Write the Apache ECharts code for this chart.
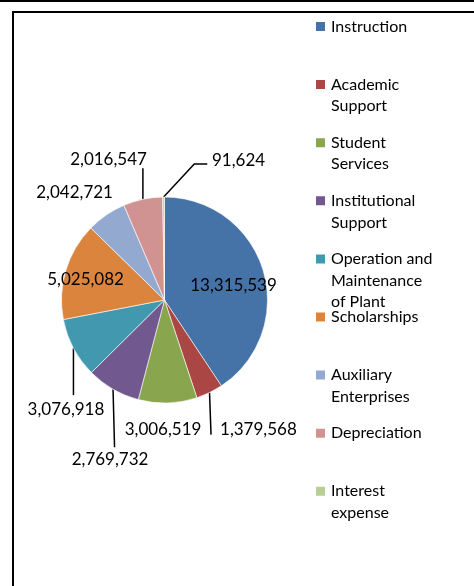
<!DOCTYPE html>
<html>
<head>
<meta charset="utf-8">
<title>Expenses by function</title>
<style>
    html, body { margin: 0; padding: 0; background: #fff; }
    #chart { width: 474px; height: 586px; }
</style>
<script src="https://cdn.jsdelivr.net/npm/echarts@6/dist/echarts.min.js"></script>
</head>
<body>
<div id="chart"></div>
<script>
// slices, clockwise from 12 o'clock
var categories = ['Instruction', 'Academic Support', 'Student Services', 'Institutional Support',
    'Operation and Maintenance of Plant', 'Scholarships', 'Auxiliary Enterprises', 'Depreciation', 'Interest expense'];
var amounts = [13315539, 1379568, 3006519, 2769732, 3076918, 5025082, 2042721, 2016547, 91624];
// legend text, wrapped the way the original wraps it
var legendText = ['Instruction', 'Academic\nSupport', 'Student\nServices', 'Institutional\nSupport',
    'Operation and\nMaintenance\nof Plant', 'Scholarships', 'Auxiliary\nEnterprises', 'Depreciation', 'Interest\nexpense'];
var colors = ['#4572A7', '#AA4643', '#89A54E', '#71588F', '#4198AF', '#DB843D', '#93A9CF', '#D19392', '#B9CD96'];

var pieCenter = [164.5, 300];
var pieRadius = 103;
var lineHeight = 21.6;

// where each value label goes, measured from the middle of the slice's rim:
// k pulls the anchor inwards, path is the leader line, dx/dy move the text from its end
var labelSpots = [
    { k: 0.7, dy: 6, align: 'center' },                                // Instruction (inside)
    { path: [[1.5, 42]], dx: 9, dy: -5, align: 'left' },               // Academic Support
    { dx: -4.7, dy: 26.6, align: 'center' },                           // Student Services
    { path: [[1.5, 58]], dx: -4.5, dy: 12, align: 'center' },          // Institutional Support
    { path: [[0, 47]], dx: -7.5, dy: 14, align: 'center' },            // Operation and Maintenance
    { k: 0.8, dy: 3, align: 'center' },                                // Scholarships (inside)
    { dx: 6.7, dy: -22.5, align: 'right' },                            // Auxiliary Enterprises
    { path: [[0, -31]], dx: 4, dy: -9, align: 'right' },               // Depreciation
    { path: [[30.7, -33], [43.7, -33]], dx: 4.7, dy: -3, align: 'left' } // Interest expense
];

function placeLabel(p) {
    var spot = labelSpots[p.dataIndex];
    if (!spot || !p.labelLinePoints) {
        return {};
    }
    var edge = p.labelLinePoints[0];
    var k = spot.k || 1;
    var pts = [edge];
    (spot.path || []).forEach(function (d) {
        pts.push([edge[0] + d[0], edge[1] + d[1]]);
    });
    var end = spot.path
        ? pts[pts.length - 1]
        : [pieCenter[0] + (edge[0] - pieCenter[0]) * k, pieCenter[1] + (edge[1] - pieCenter[1]) * k];
    return {
        x: end[0] + (spot.dx || 0),
        y: end[1] + (spot.dy || 0),
        align: spot.align,
        verticalAlign: 'middle',
        labelLinePoints: pts.length > 1 ? pts : [edge, edge]
    };
}

// pad each legend entry to 5 lines with its first line in the middle,
// so the swatch lines up with the first line and all entries are the same height
function padLegend(text) {
    var lines = text.split('\n');
    var out = ['', ''].concat(lines);
    while (out.length < 5) {
        out.push('');
    }
    return out.join('\n');
}

var myChart = echarts.init(document.getElementById('chart'), null, { renderer: 'canvas' });

var option = {
    animation: false,
    backgroundColor: '#fff',
    color: colors,
    graphic: [
        { type: 'rect', silent: true, shape: { x: 0, y: 0, width: 474, height: 2 }, style: { fill: '#000' } },
        { type: 'rect', silent: true, shape: { x: 13, y: 12, width: 600, height: 700 },
          style: { fill: 'none', stroke: '#000', lineWidth: 2 } }
    ],
    legend: {
        orient: 'vertical',
        left: 314,
        top: 26.5 - 2.5 * lineHeight,
        height: 800,
        padding: 0,
        icon: 'rect',
        itemWidth: 11,
        itemHeight: 11,
        // every entry is a 5-line box, so the gap is negative
        itemGap: 58.1 - 5 * lineHeight,
        selectedMode: false,
        data: categories,
        formatter: function (name) {
            return padLegend(legendText[categories.indexOf(name)]);
        },
        textStyle: {
            fontFamily: 'Lato',
            fontSize: 16,
            color: '#000',
            lineHeight: lineHeight
        }
    },
    series: [{
        type: 'pie',
        center: pieCenter,
        radius: pieRadius,
        startAngle: 90,
        clockwise: true,
        avoidLabelOverlap: false,
        data: categories.map(function (name, i) {
            return { name: name, value: amounts[i] };
        }),
        itemStyle: { borderColor: '#fff', borderWidth: 0.6 },
        label: {
            show: true,
            position: 'outside',
            fontFamily: 'Lato',
            fontSize: 17,
            color: '#000',
            formatter: function (params) {
                return params.value.toLocaleString('en-US');
            }
        },
        labelLine: {
            show: true,
            length: 10,
            length2: 5,
            lineStyle: { color: '#000', width: 1.5 }
        },
        labelLayout: placeLabel,
        emphasis: { disabled: true }
    }]
};
myChart.setOption(option);
</script>
</body>
</html>
